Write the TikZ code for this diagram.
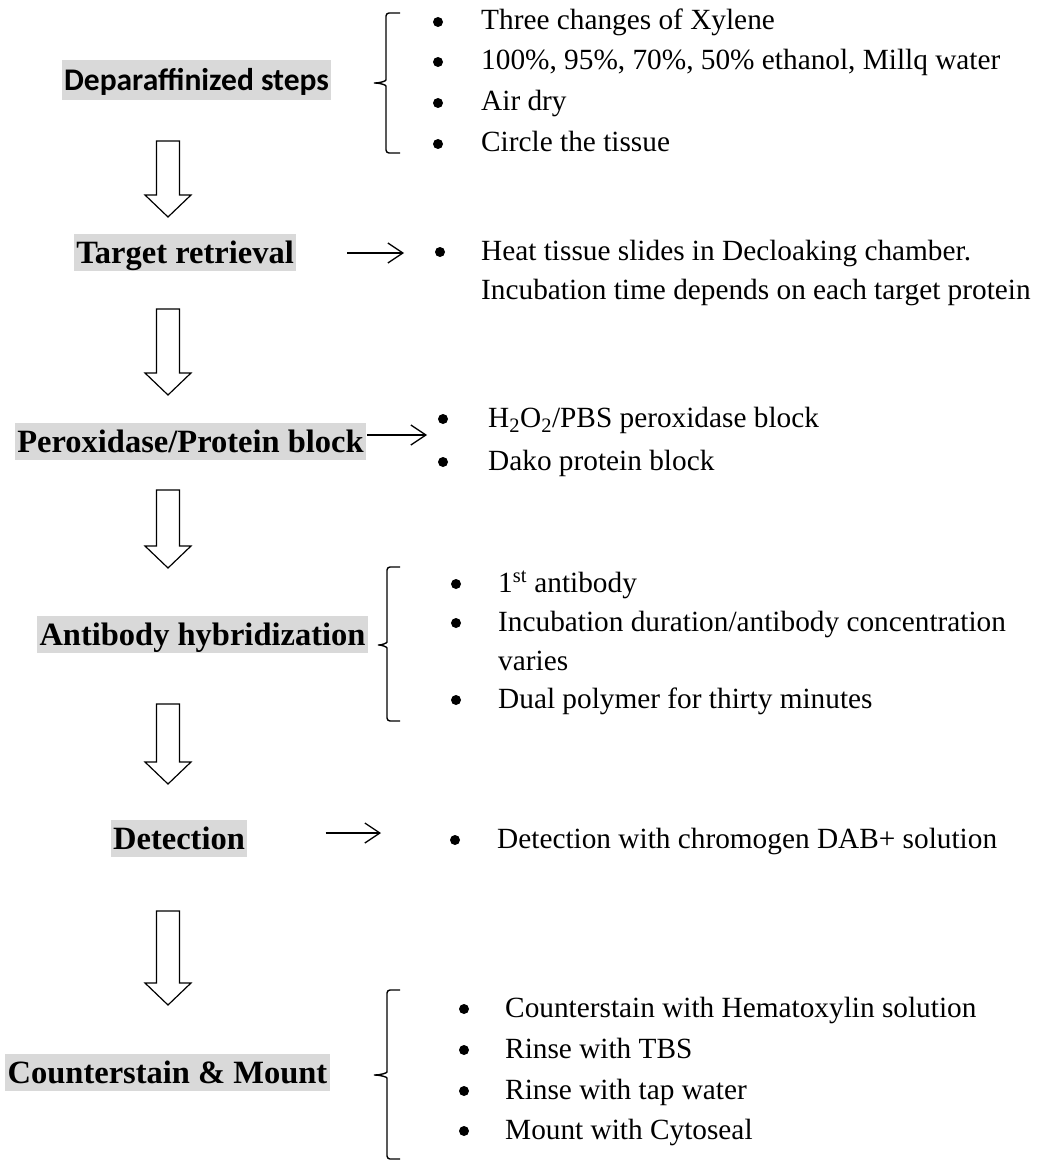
\documentclass[tikz,border=0pt]{standalone}
\usepackage{fontspec}
\setmainfont{Liberation Serif}
\newfontfamily\calibri{Carlito}
\usetikzlibrary{arrows.meta}
\newcommand\itemfont{\fontsize{29.3}{35}\selectfont}
\newcommand\stepfont{\fontsize{32.5}{39}\selectfont\bfseries}

\begin{document}
\begin{tikzpicture}[x=1pt,y=-1pt,
  stepbox/.style={fill=gray!30, inner xsep=2.5pt, inner ysep=0.5pt, text height=29pt, text depth=7pt, font=\stepfont},
  item/.style={anchor=base west, inner sep=0pt, font=\itemfont},
  flowarrow/.style={line width=1.3pt, -{Straight Barb[length=15pt,width=20pt,line width=1.3pt]}},
  hollow/.style={line width=1.2pt, line join=miter},
  brace/.style={line width=1.4pt, rounded corners=3pt}]
\useasboundingbox (0,0) rectangle (1039,1161);

% steps on the left
\node[stepbox, font=\calibri\fontsize{31.5}{38}\selectfont\bfseries, text height=30pt, text depth=8pt, inner ysep=1pt] (ds) at (196.5,80) {Deparaffinized steps};
\node[stepbox] (tr) at (185,252.5) {Target retrieval};
\node[stepbox] (pb) at (190.5,441.5) {Peroxidase/Protein block};
\node[stepbox] (ab) at (202.5,634.5) {Antibody hybridization};
\node[stepbox] (dt) at (179,838.5) {Detection};
\node[stepbox] (cm) at (167.5,1072.5) {Counterstain \& Mount};

% hollow arrows between steps
\foreach \t/\h in {141/195, 309/373, 490/546, 704/762, 911/983}
  \draw[hollow] (156.5,\t) -- (179.5,\t) -- (179.5,\h) -- (191,\h) -- (168,\h+22) -- (145,\h) -- (156.5,\h) -- cycle;

% braces
\draw[brace] (400,13) -- (386,13) -- (386,77) .. controls (386,81) and (380,83) .. (372,83) .. controls (380,83) and (386,85) .. (386,89) -- (386,153) -- (400,153);
\draw[brace] (400,567) -- (387,567) -- (387,639) .. controls (387,643) and (382,645) .. (376,645) .. controls (382,645) and (387,647) .. (387,651) -- (387,721) -- (400,721);
\draw[brace] (400,990) -- (387,990) -- (387,1069) .. controls (387,1073) and (380,1075) .. (372,1075) .. controls (380,1075) and (387,1077) .. (387,1081) -- (387,1159) -- (400,1159);

% thin arrows
\coordinate (trtip) at (404,253);
\coordinate (pbtip) at (427,435);
\coordinate (dttip) at (381,833);
\draw[flowarrow] ([xshift=51pt,yshift=-0.5pt]tr.east) -- (trtip);
\draw[flowarrow] ([xshift=1pt,yshift=6.5pt]pb.east) -- (pbtip);
\draw[flowarrow] ([xshift=78pt,yshift=5.5pt]dt.east) -- (dttip);

% bullets
\foreach \x/\y in {438/22, 438/62, 438/103, 438/144, 440/252, 443/419, 443/462,
                   456/584, 456/623, 456/700, 455/840, 464/1009, 464/1050, 464/1091, 464/1131}
  \fill (\x,\y) circle (5pt);

% items
\node[item] (ds1) at (481,30) {Three changes of Xylene};
\node[item] (ds2) at (481,70) {100\%, 95\%, 70\%, 50\% ethanol, Millq water};
\node[item] (ds3) at (481,111) {Air dry};
\node[item] (ds4) at (481,152) {Circle the tissue};

\node[item] (tr1) at (481,260) {Heat tissue slides in Decloaking chamber.};
\node[item] (tr2) at (481,299) {Incubation time depends on each target protein};

\node[item] (pb1) at (488,427) {H\textsubscript{2}O\textsubscript{2}/PBS peroxidase block};
\node[item] (pb2) at (488,470) {Dako protein block};

\node[item] (ab1) at (498,592) {1\textsuperscript{st} antibody};
\node[item] (ab2) at (498,631) {Incubation duration/antibody concentration};
\node[item] (ab3) at (498,670) {varies};
\node[item] (ab4) at (498,708) {Dual polymer for thirty minutes};

\node[item] (dt1) at (497,848) {Detection with chromogen DAB+ solution};

\node[item] (cm1) at (505,1017) {Counterstain with Hematoxylin solution};
\node[item] (cm2) at (505,1058) {Rinse with TBS};
\node[item] (cm3) at (505,1099) {Rinse with tap water};
\node[item] (cm4) at (505,1139) {Mount with Cytoseal};
\end{tikzpicture}
\end{document}
